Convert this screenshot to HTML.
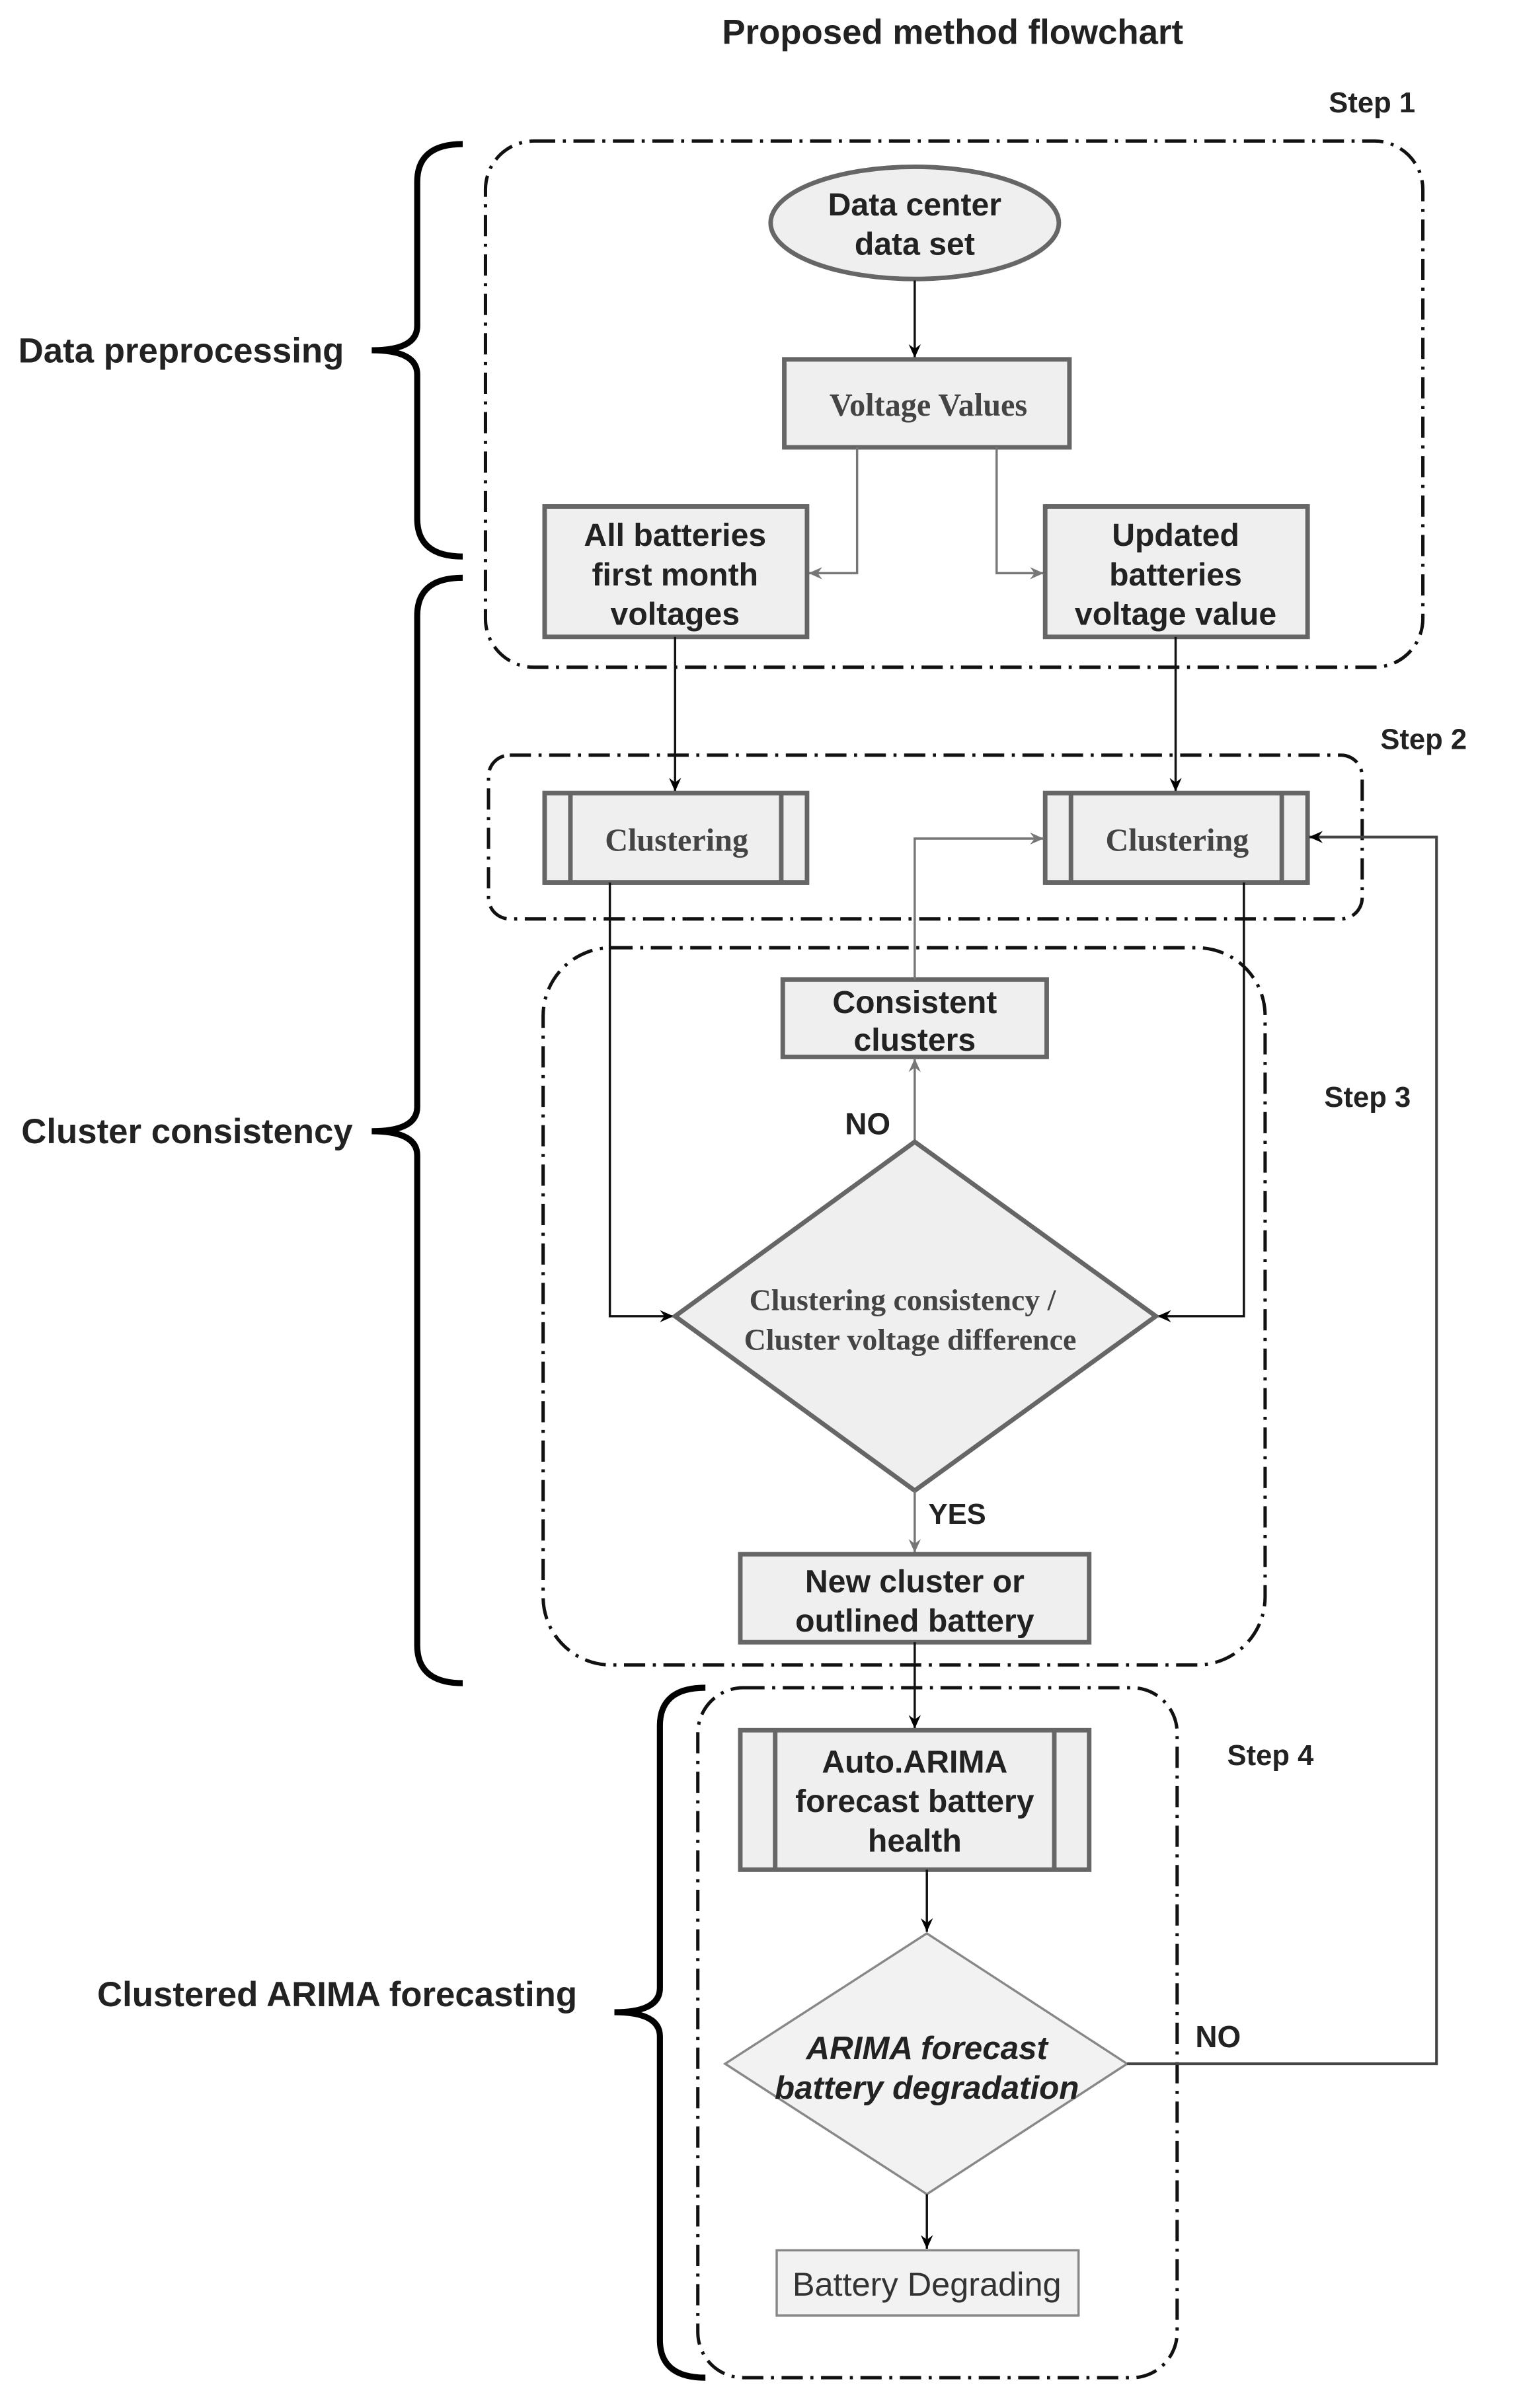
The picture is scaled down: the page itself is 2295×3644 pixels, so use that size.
<!DOCTYPE html>
<html><head><meta charset="utf-8"><style>
html,body{margin:0;padding:0;background:#fff}
svg{display:block}
.s{font-family:"Liberation Sans",sans-serif;font-weight:bold;fill:#222}
.r{font-family:"Liberation Serif",serif;font-weight:bold;fill:#444}
.box{fill:#efefef;stroke:#666;stroke-width:3}
.dd{fill:none;stroke:#111;stroke-width:2.2;stroke-dasharray:14 5 2 5}
.br{fill:none;stroke:#000;stroke-width:4}
.ln{fill:none;stroke:#111;stroke-width:1.5}
.gl{fill:none;stroke:#777;stroke-width:1.5}
</style></head><body>
<svg width="2295" height="3644" viewBox="0 0 1000 1588" xmlns="http://www.w3.org/2000/svg">
<defs>
<marker id="a" markerWidth="10" markerHeight="10" refX="9" refY="5" orient="auto" markerUnits="userSpaceOnUse"><path d="M0,1 L9,5 L0,9 L3,5Z" fill="#000"/></marker>
<marker id="g" markerWidth="10" markerHeight="10" refX="9" refY="5" orient="auto" markerUnits="userSpaceOnUse"><path d="M0,1 L9,5 L0,9 L3,5Z" fill="#777"/></marker>
</defs>
<text class="s" x="628" y="29" font-size="23" text-anchor="middle">Proposed method flowchart</text>
<text class="s" x="876" y="74" font-size="19">Step 1</text>
<text class="s" x="910" y="494" font-size="19">Step 2</text>
<text class="s" x="873" y="730" font-size="19">Step 3</text>
<text class="s" x="809" y="1164" font-size="19">Step 4</text>

<rect class="dd" x="320" y="93" width="618" height="347" rx="32"/>
<rect class="dd" x="322" y="498" width="576" height="108" rx="14"/>
<rect class="dd" x="358" y="625" width="476" height="473" rx="45"/>
<rect class="dd" x="460" y="1113" width="316" height="455" rx="30"/>

<path class="br" d="M305,95 Q275,95 275,120 L275,215 Q275,231 245,231 Q275,231 275,247 L275,342 Q275,367 305,367"/>
<path class="br" d="M305,381 Q275,381 275,406 L275,730 Q275,746 245,746 Q275,746 275,762 L275,1085 Q275,1110 305,1110"/>
<path class="br" d="M465,1113 Q435,1113 435,1138 L435,1311 Q435,1327 405,1327 Q435,1327 435,1343 L435,1543 Q435,1568 465,1568"/>
<text class="s" x="12" y="239" font-size="23">Data preprocessing</text>
<text class="s" x="14" y="754" font-size="23">Cluster consistency</text>
<text class="s" x="64" y="1323" font-size="23">Clustered ARIMA forecasting</text>

<ellipse class="box" cx="603" cy="147" rx="95" ry="37"/>
<text class="s" x="603" y="142" font-size="21" text-anchor="middle" fill="#333">Data center</text>
<text class="s" x="603" y="168" font-size="21" text-anchor="middle" fill="#333">data set</text>
<path class="ln" d="M603,185 L603,236" marker-end="url(#a)"/>
<rect class="box" x="517" y="237" width="188" height="58"/>
<text class="r" x="612" y="274" font-size="21" text-anchor="middle">Voltage Values</text>
<path class="gl" d="M565,295 L565,378 L533,378" marker-end="url(#g)"/>
<path class="gl" d="M657,295 L657,378 L688,378" marker-end="url(#g)"/>
<rect class="box" x="359" y="334" width="173" height="86"/>
<text class="s" x="445" y="360" font-size="21" text-anchor="middle" fill="#333">All batteries</text>
<text class="s" x="445" y="386" font-size="21" text-anchor="middle" fill="#333">first month</text>
<text class="s" x="445" y="412" font-size="21" text-anchor="middle" fill="#333">voltages</text>
<rect class="box" x="689" y="334" width="173" height="86"/>
<text class="s" x="775" y="360" font-size="21" text-anchor="middle" fill="#333">Updated</text>
<text class="s" x="775" y="386" font-size="21" text-anchor="middle" fill="#333">batteries</text>
<text class="s" x="775" y="412" font-size="21" text-anchor="middle" fill="#333">voltage value</text>

<path class="ln" d="M445,420 L445,522" marker-end="url(#a)"/>
<path class="ln" d="M775,420 L775,522" marker-end="url(#a)"/>
<rect class="box" x="359" y="523" width="173" height="59"/>
<path class="box" d="M376,523 V582 M515,523 V582"/>
<text class="r" x="446" y="561" font-size="21" text-anchor="middle">Clustering</text>
<rect class="box" x="689" y="523" width="173" height="59"/>
<path class="box" d="M706,523 V582 M845,523 V582"/>
<text class="r" x="776" y="561" font-size="21" text-anchor="middle">Clustering</text>

<path class="ln" d="M402,582 L402,868 L444,868" marker-end="url(#a)"/>
<path class="ln" d="M820,582 L820,868 L763,868" marker-end="url(#a)"/>
<rect class="box" x="516" y="646" width="174" height="51"/>
<text class="s" x="603" y="668" font-size="21" text-anchor="middle" fill="#333">Consistent</text>
<text class="s" x="603" y="693" font-size="21" text-anchor="middle" fill="#333">clusters</text>
<path class="gl" d="M603,753 L603,698" marker-end="url(#g)"/>
<path class="gl" d="M603,646 L603,553 L688,553" marker-end="url(#g)"/>
<text class="s" x="557" y="748" font-size="20">NO</text>
<polygon class="box" points="603,753 762,868 603,983 445,868"/>
<text class="r" x="595" y="864" font-size="20" text-anchor="middle">Clustering consistency /</text>
<text class="r" x="600" y="890" font-size="20" text-anchor="middle">Cluster voltage difference</text>
<path class="gl" d="M603,983 L603,1024" marker-end="url(#g)"/>
<text class="s" x="612" y="1005" font-size="19">YES</text>
<rect class="box" x="488" y="1025" width="230" height="58"/>
<text class="s" x="603" y="1050" font-size="21" text-anchor="middle" fill="#333">New cluster or</text>
<text class="s" x="603" y="1076" font-size="21" text-anchor="middle" fill="#333">outlined battery</text>
<path class="ln" d="M603,1083 L603,1140" marker-end="url(#a)"/>

<rect class="box" x="488" y="1141" width="230" height="92"/>
<path class="box" d="M511,1141 V1233 M695,1141 V1233"/>
<text class="s" x="603" y="1169" font-size="21" text-anchor="middle" fill="#333">Auto.ARIMA</text>
<text class="s" x="603" y="1195" font-size="21" text-anchor="middle" fill="#333">forecast battery</text>
<text class="s" x="603" y="1221" font-size="21" text-anchor="middle" fill="#333">health</text>
<path class="ln" d="M611,1233 L611,1274" marker-end="url(#a)"/>
<polygon points="611,1275 743,1361 611,1447 478,1361" fill="#f2f2f2" stroke="#888" stroke-width="1.5"/>
<text class="s" x="611" y="1358" font-size="21.5" text-anchor="middle" font-style="italic" fill="#333">ARIMA forecast</text>
<text class="s" x="611" y="1384" font-size="21.5" text-anchor="middle" font-style="italic" fill="#333">battery degradation</text>
<path d="M743,1361 L947,1361 L947,552 L863,552" fill="none" stroke="#444" stroke-width="1.8" marker-end="url(#a)"/>
<text class="s" x="788" y="1350" font-size="20">NO</text>
<path class="ln" d="M611,1447 L611,1483" marker-end="url(#a)"/>
<rect x="512" y="1484" width="199" height="43" fill="#f2f2f2" stroke="#888" stroke-width="1.5"/>
<text x="611" y="1514" font-size="22" text-anchor="middle" font-family="Liberation Sans,sans-serif" fill="#333">Battery Degrading</text>
</svg>
</body></html>
